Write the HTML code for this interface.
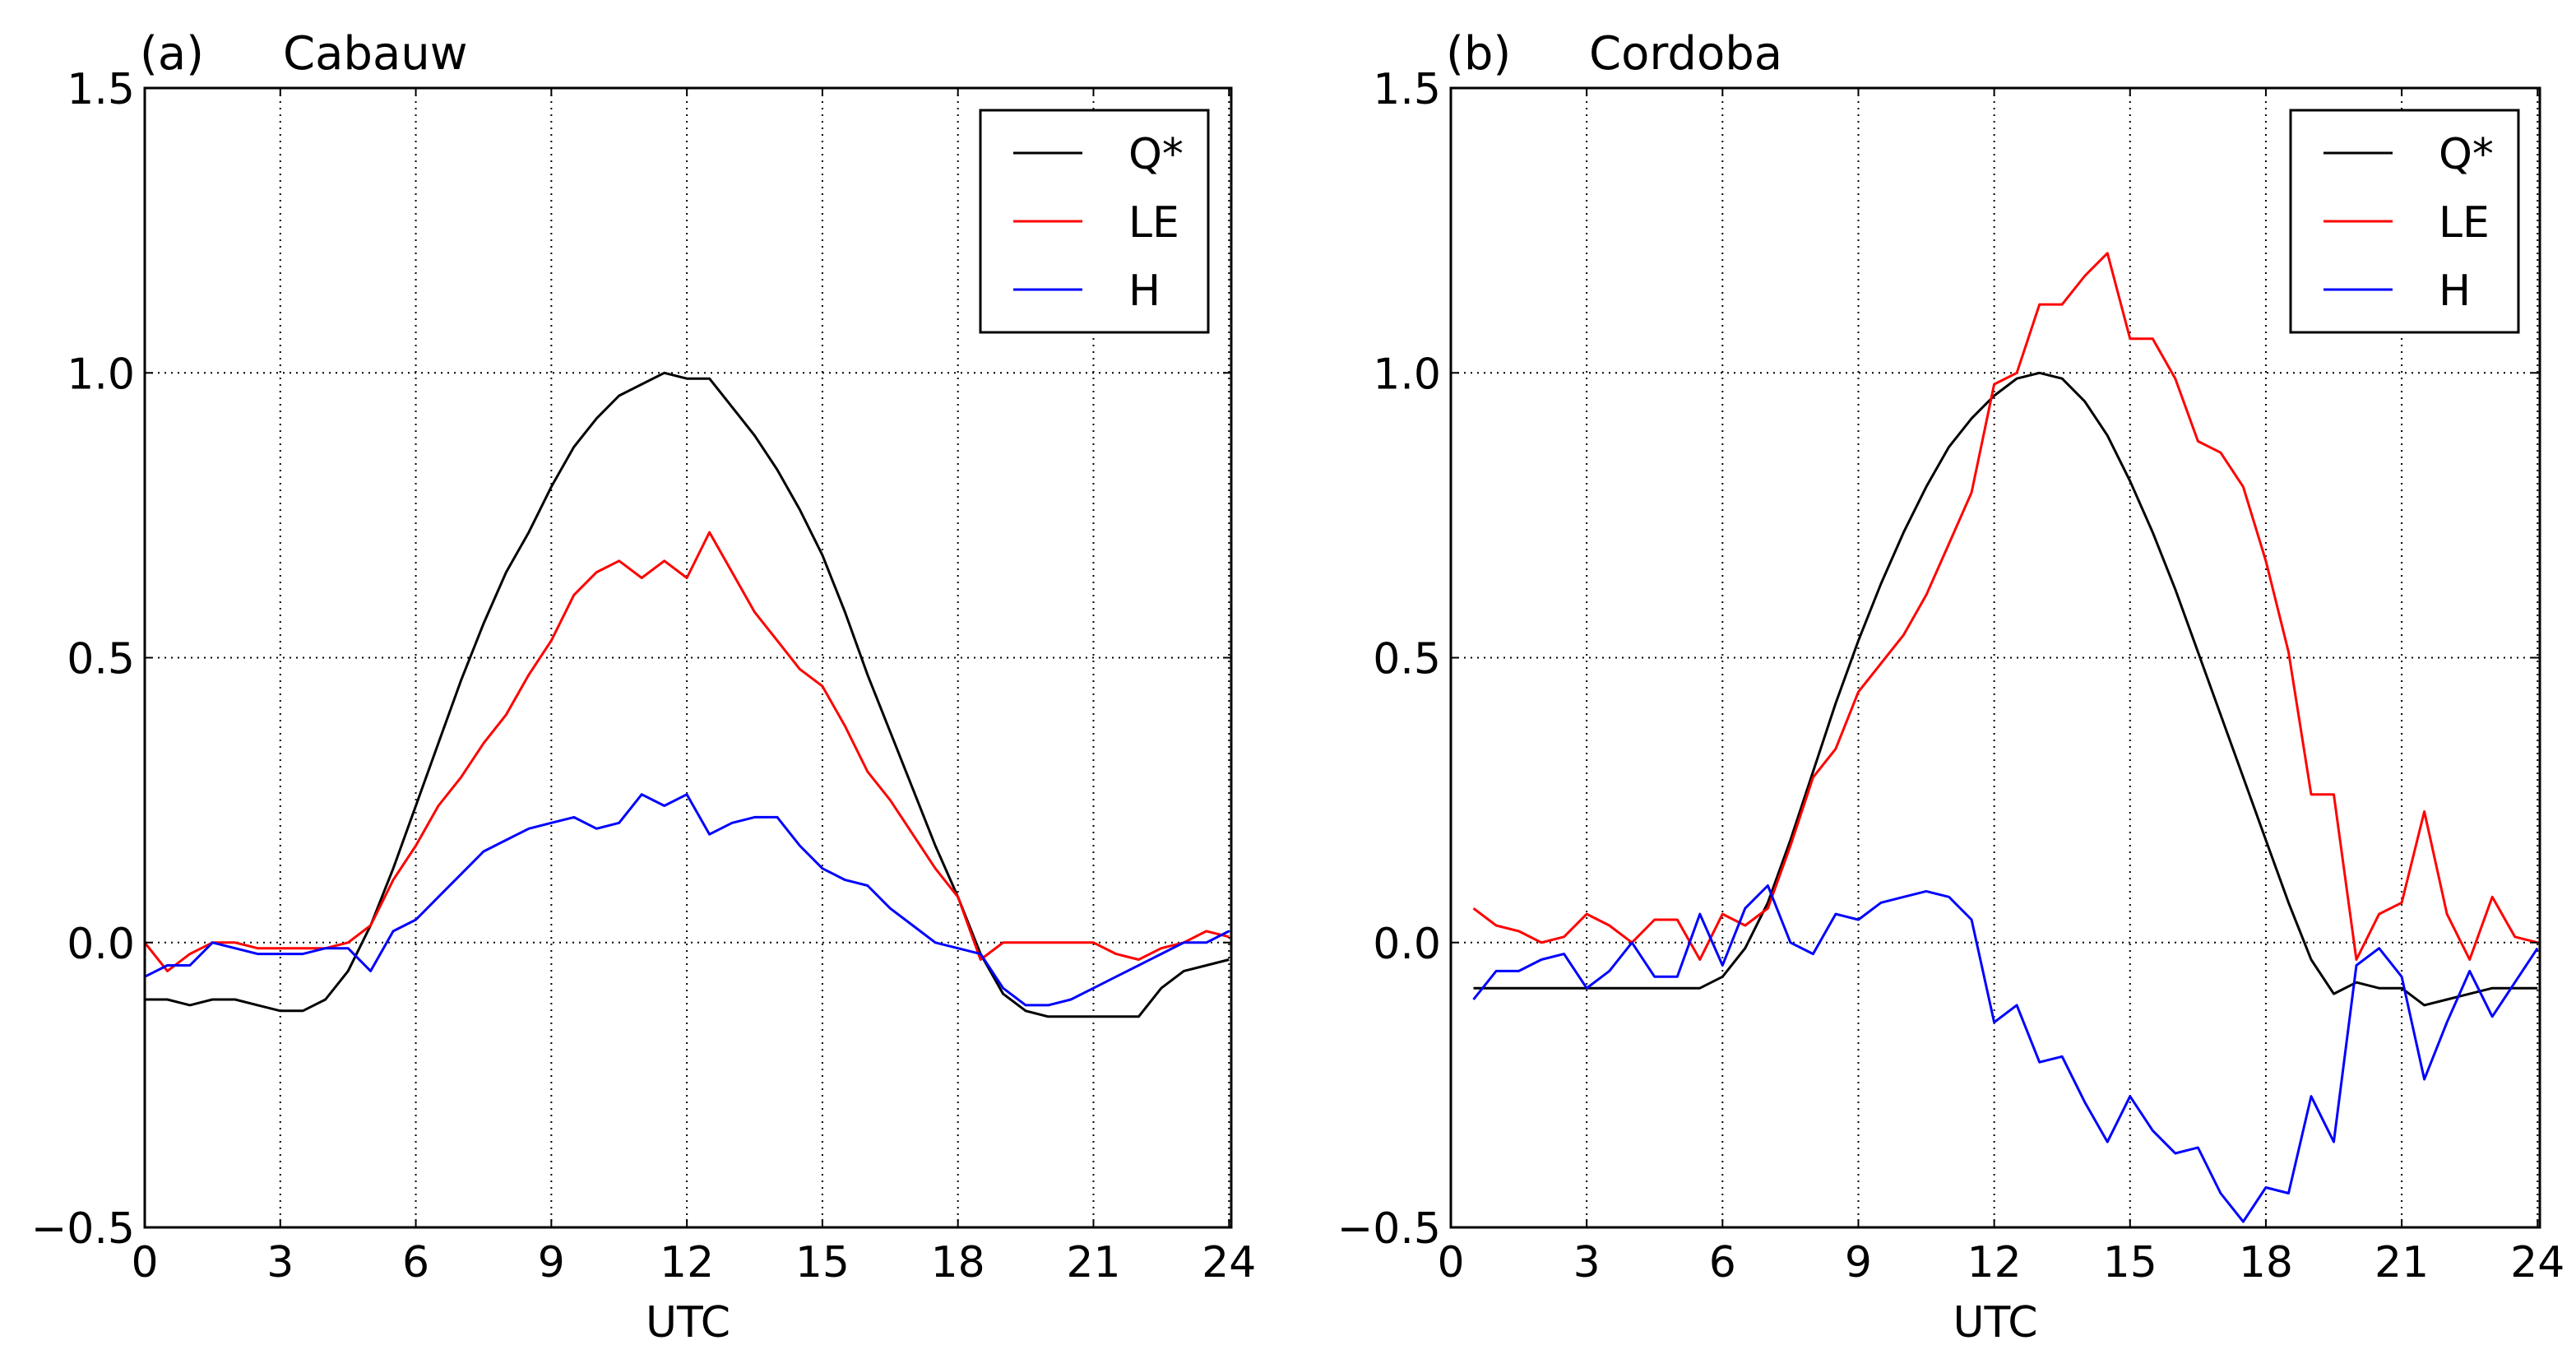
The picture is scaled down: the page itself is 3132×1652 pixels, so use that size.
<!DOCTYPE html>
<html><head><meta charset="utf-8"><style>
html,body{margin:0;padding:0;background:#fff;}
svg{display:block;font-family:"DejaVu Sans","Liberation Sans",sans-serif;}
</style></head><body>
<svg id="fig" width="3132" height="1652" viewBox="0 0 3132 1652" xmlns="http://www.w3.org/2000/svg"></svg>
<script>
// Panel (a) Cabauw data
const timesA = [0,0.5,1,1.5,2,2.5,3,3.5,4,4.5,5,5.5,6,6.5,7,7.5,8,8.5,9,9.5,10,10.5,11,11.5,12,12.5,13,13.5,14,14.5,15,15.5,16,16.5,17,17.5,18,18.5,19,19.5,20,20.5,21,21.5,22,22.5,23,23.5,24];
const qstarA = [-0.10,-0.10,-0.11,-0.10,-0.10,-0.11,-0.12,-0.12,-0.10,-0.05,0.03,0.13,0.24,0.35,0.46,0.56,0.65,0.72,0.80,0.87,0.92,0.96,0.98,1.00,0.99,0.99,0.94,0.89,0.83,0.76,0.68,0.58,0.47,0.37,0.27,0.17,0.08,-0.02,-0.09,-0.12,-0.13,-0.13,-0.13,-0.13,-0.13,-0.08,-0.05,-0.04,-0.03];
const leA = [0.0,-0.05,-0.02,0.0,0.0,-0.01,-0.01,-0.01,-0.01,0.0,0.03,0.11,0.17,0.24,0.29,0.35,0.40,0.47,0.53,0.61,0.65,0.67,0.64,0.67,0.64,0.72,0.65,0.58,0.53,0.48,0.45,0.38,0.30,0.25,0.19,0.13,0.08,-0.03,0.0,0.0,0.0,0.0,0.0,-0.02,-0.03,-0.01,0.0,0.02,0.01];
const hA = [-0.06,-0.04,-0.04,0.0,-0.01,-0.02,-0.02,-0.02,-0.01,-0.01,-0.05,0.02,0.04,0.08,0.12,0.16,0.18,0.20,0.21,0.22,0.20,0.21,0.26,0.24,0.26,0.19,0.21,0.22,0.22,0.17,0.13,0.11,0.10,0.06,0.03,0.0,-0.01,-0.02,-0.08,-0.11,-0.11,-0.10,-0.08,-0.06,-0.04,-0.02,0.0,0.0,0.02];
// Panel (b) Cordoba data
const timesB = [0.5,1,1.5,2,2.5,3,3.5,4,4.5,5,5.5,6,6.5,7,7.5,8,8.5,9,9.5,10,10.5,11,11.5,12,12.5,13,13.5,14,14.5,15,15.5,16,16.5,17,17.5,18,18.5,19,19.5,20,20.5,21,21.5,22,22.5,23,23.5,24];
const qstarB = [-0.08,-0.08,-0.08,-0.08,-0.08,-0.08,-0.08,-0.08,-0.08,-0.08,-0.08,-0.06,-0.01,0.07,0.18,0.30,0.42,0.53,0.63,0.72,0.80,0.87,0.92,0.96,0.99,1.00,0.99,0.95,0.89,0.81,0.72,0.62,0.51,0.40,0.29,0.18,0.07,-0.03,-0.09,-0.07,-0.08,-0.08,-0.11,-0.10,-0.09,-0.08,-0.08,-0.08];
const leB = [0.06,0.03,0.02,0.0,0.01,0.05,0.03,0.0,0.04,0.04,-0.03,0.05,0.03,0.06,0.17,0.29,0.34,0.44,0.49,0.54,0.61,0.70,0.79,0.98,1.00,1.12,1.12,1.17,1.21,1.06,1.06,0.99,0.88,0.86,0.80,0.67,0.51,0.26,0.26,-0.03,0.05,0.07,0.23,0.05,-0.03,0.08,0.01,0.0];
const hB = [-0.10,-0.05,-0.05,-0.03,-0.02,-0.08,-0.05,0.0,-0.06,-0.06,0.05,-0.04,0.06,0.10,0.0,-0.02,0.05,0.04,0.07,0.08,0.09,0.08,0.04,-0.14,-0.11,-0.21,-0.20,-0.28,-0.35,-0.27,-0.33,-0.37,-0.36,-0.44,-0.49,-0.43,-0.44,-0.27,-0.35,-0.04,-0.01,-0.06,-0.24,-0.14,-0.05,-0.13,-0.07,-0.01];
const xTicks = [0,3,6,9,12,15,18,21,24];
const yTicks = [-0.5,0.0,0.5,1.0,1.5];
const yTickLabels = ["\u22120.5","0.0","0.5","1.0","1.5"];
const seriesNames = ["Q*","LE","H"];
const seriesColors = ["#000000","#ff0000","#0000ff"];

const NS = "http://www.w3.org/2000/svg";
const svg = document.getElementById('fig');
function mk(tag, attrs, parent){ const e=document.createElementNS(NS,tag); for(const k in attrs) e.setAttribute(k,attrs[k]); (parent||svg).appendChild(e); return e; }

function panel(cfg){
  const L=cfg.left, R=cfg.right, T=107, B=1492;
  const xs = t => L + (t-0)/(24.05-0)*(R-L);
  const ys = v => B - (v+0.5)/2.0*(B-T);
  const g = mk('g',{});
  
  
  xTicks.forEach(t=>{ if(t===0) return; const l=mk('line',{x1:xs(t),x2:xs(t),y1:T,y2:B,stroke:'#000','stroke-width':2,'stroke-dasharray':'2,6'},g);
      });
  yTicks.forEach(v=>{ const l=mk('line',{x1:L,x2:R,y1:ys(v),y2:ys(v),stroke:'#000','stroke-width':2,'stroke-dasharray':'2,6'},g);
      });
  cfg.series.forEach((s,i)=>{
    const d = s.map((v,j)=>(j?'L':'M')+xs(cfg.times[j]).toFixed(1)+','+ys(v).toFixed(1)).join(' ');
    const p = mk('path',{d:d,fill:'none',stroke:seriesColors[i],'stroke-width':3,'stroke-linejoin':'round'},g);
    
    
  });
  const fr = mk('rect',{x:L,y:T,width:R-L,height:B-T,fill:'none',stroke:'#000','stroke-width':3},g);
   
  xTicks.forEach(t=>{
    mk('line',{x1:xs(t),x2:xs(t),y1:B,y2:B-10,stroke:'#000','stroke-width':2},g);
    mk('line',{x1:xs(t),x2:xs(t),y1:T,y2:T+10,stroke:'#000','stroke-width':2},g);
    const tx = mk('text',{x:xs(t),y:1552,'font-size':52,'text-anchor':'middle'},g); tx.textContent=t;
     
  });
  yTicks.forEach((v,i)=>{
    mk('line',{x1:L,x2:L+10,y1:ys(v),y2:ys(v),stroke:'#000','stroke-width':2},g);
    mk('line',{x1:R,x2:R-10,y1:ys(v),y2:ys(v),stroke:'#000','stroke-width':2},g);
    const ty = mk('text',{x:L-12,y:ys(v)+19,'font-size':52,'text-anchor':'end'},g); ty.textContent=yTickLabels[i];
     
  });
  const xl = mk('text',{x:(L+R)/2,y:1625,'font-size':52,'text-anchor':'middle'},g); xl.textContent='UTC';
   
  const t1 = mk('text',{x:L-6,y:84,'font-size':56},g); t1.textContent=cfg.tag;
   
  const t2 = mk('text',{x:L+168,y:84,'font-size':56},g); t2.textContent=cfg.title;
   
  const lg = mk('g',{},g);
   
  const lx = cfg.legendX;
  mk('rect',{x:lx,y:134,width:277,height:270,fill:'#fff',stroke:'#000','stroke-width':3},lg);
  seriesNames.forEach((n,i)=>{
    const yy = 186 + i*83;
    const e = mk('g',{},lg);
    
    
    mk('line',{x1:lx+40,x2:lx+124,y1:yy,y2:yy,stroke:seriesColors[i],'stroke-width':3},e);
    const tt = mk('text',{x:lx+180,y:yy+19,'font-size':52},e); tt.textContent=n;
  });
}
panel({id:'cabauw',left:176,right:1497,times:timesA,series:[qstarA,leA,hA],tag:'(a)',title:'Cabauw',legendX:1192});
panel({id:'cordoba',left:1764,right:3088,times:timesB,series:[qstarB,leB,hB],tag:'(b)',title:'Cordoba',legendX:2785});
</script>
</body></html>
